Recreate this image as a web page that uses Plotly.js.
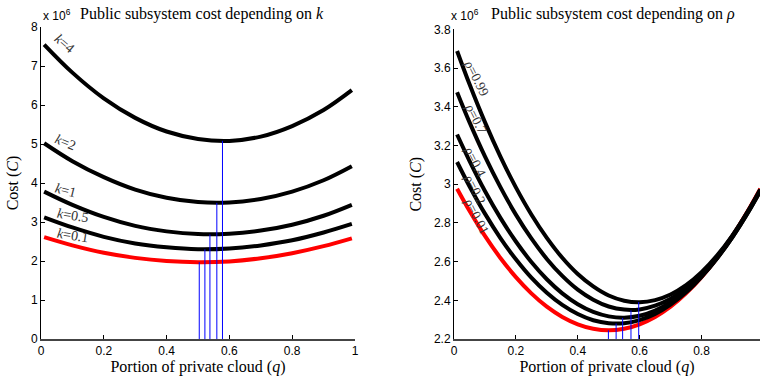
<!DOCTYPE html>
<html>
<head>
<meta charset="utf-8">
<script src="https://cdn.plot.ly/plotly-3.0.1.min.js"></script>
<style>html,body{margin:0;padding:0;background:#fff}#chart{width:760px;height:380px}</style>
</head>
<body>
<div id="chart"></div>
<script>
// ---------- Left panel: cost vs q for several k (values x 10^6) ----------
const qLeft = [0.01, 0.1, 0.2, 0.3, 0.4, 0.5, 0.6, 0.7, 0.8, 0.9, 0.99];
const kLabels = ["k=4", "k=2", "k=1", "k=0.5", "k=0.1"];
const costK4   = [7.55, 6.83, 6.17, 5.67, 5.32, 5.13, 5.08, 5.19, 5.46, 5.87, 6.38];
const costK2   = [5.02, 4.56, 4.15, 3.83, 3.62, 3.51, 3.50, 3.59, 3.78, 4.07, 4.43];
const costK1   = [3.78, 3.44, 3.13, 2.90, 2.76, 2.69, 2.70, 2.78, 2.93, 3.16, 3.44];
const costK05  = [3.12, 2.86, 2.62, 2.45, 2.35, 2.30, 2.32, 2.40, 2.53, 2.73, 2.95];
const costK01  = [2.61, 2.40, 2.21, 2.08, 2.00, 1.97, 1.99, 2.07, 2.20, 2.38, 2.58];
const qOptK    = [0.504, 0.522, 0.538, 0.560, 0.578];
const cMinK    = [1.97, 2.30, 2.68, 3.49, 5.08];

// ---------- Right panel: cost vs q for several rho (values x 10^6) ----------
const qRight = [0.01, 0.05, 0.1, 0.15, 0.2, 0.25, 0.3, 0.35, 0.4, 0.45, 0.5, 0.55, 0.6, 0.65, 0.7, 0.75, 0.8, 0.85, 0.9, 0.95, 0.99];
const rhoLabels = ["ρ=0.99", "ρ=0.7", "ρ=0.4", "ρ=0.2", "ρ=0.01"];
const costR099 = [3.689, 3.518, 3.321, 3.143, 2.984, 2.844, 2.723, 2.620, 2.536, 2.472, 2.425, 2.398, 2.390, 2.401, 2.430, 2.478, 2.545, 2.631, 2.736, 2.860, 2.972];
const costR07  = [3.476, 3.321, 3.144, 2.985, 2.843, 2.720, 2.614, 2.526, 2.455, 2.403, 2.368, 2.352, 2.353, 2.372, 2.408, 2.463, 2.535, 2.625, 2.733, 2.860, 2.973];
const costR04  = [3.257, 3.121, 2.965, 2.826, 2.704, 2.598, 2.509, 2.436, 2.380, 2.340, 2.317, 2.310, 2.320, 2.347, 2.390, 2.449, 2.525, 2.618, 2.727, 2.853, 2.965];
const costR02  = [3.115, 2.990, 2.848, 2.722, 2.612, 2.517, 2.439, 2.376, 2.329, 2.297, 2.282, 2.282, 2.298, 2.330, 2.378, 2.441, 2.521, 2.616, 2.727, 2.854, 2.966];
const costR001 = [2.977, 2.863, 2.733, 2.619, 2.520, 2.436, 2.367, 2.314, 2.276, 2.253, 2.245, 2.253, 2.276, 2.314, 2.367, 2.436, 2.520, 2.619, 2.733, 2.863, 2.977];
const qOptR    = [0.499, 0.524, 0.545, 0.572, 0.597];
const cMinR    = [2.245, 2.28, 2.309, 2.348, 2.391];

const serif = "Liberation Serif, DejaVu Serif, serif";
const sans = "Liberation Sans, Arial, sans-serif";

function curve(x, y, color, xa, ya) {
  return {x: x, y: y, type: "scatter", mode: "lines", line: {color: color, width: 4, shape: "spline", smoothing: 1},
          xaxis: xa, yaxis: ya, hoverinfo: "skip", showlegend: false};
}
function drops(qs, cs, base, xa, ya) {
  return qs.map((q, i) => ({x: [q, q], y: [base, cs[i]], type: "scatter", mode: "lines",
    line: {color: "#0000ff", width: 1}, xaxis: xa, yaxis: ya, hoverinfo: "skip", showlegend: false}));
}

const traces = [
  curve(qLeft, costK01, "#ff0000", "x", "y"),
  curve(qLeft, costK05, "#000000", "x", "y"),
  curve(qLeft, costK1, "#000000", "x", "y"),
  curve(qLeft, costK2, "#000000", "x", "y"),
  curve(qLeft, costK4, "#000000", "x", "y"),
  ...drops(qOptK, cMinK, 0, "x", "y"),
  curve(qRight, costR001, "#ff0000", "x2", "y2"),
  curve(qRight, costR02, "#000000", "x2", "y2"),
  curve(qRight, costR04, "#000000", "x2", "y2"),
  curve(qRight, costR07, "#000000", "x2", "y2"),
  curve(qRight, costR099, "#000000", "x2", "y2"),
  ...drops(qOptR, cMinR, 2.2, "x2", "y2")
];

function fmtLabel(s) {
  const parts = s.split("=");
  return "<i>" + parts[0] + "</i>=" + parts[1];
}

// label anchor positions (data coords) and rotation
const kLabelQ = [0.075, 0.079, 0.079, 0.101, 0.101];
const kLabelC = [7.58, 5.05, 3.80, 3.16, 2.66];
const kLabelA = [40, 22, 14, 9, 9];
const rLabelQ = [0.074, 0.071, 0.068, 0.068, 0.074];
const rLabelC = [3.547, 3.34, 3.118, 2.974, 2.834];

const annotations = [];
kLabels.forEach((t, i) => annotations.push({x: kLabelQ[i], y: kLabelC[i], xref: "x", yref: "y", text: fmtLabel(t),
  showarrow: false, textangle: kLabelA[i], font: {family: serif, size: 14, color: "#333"}}));
rhoLabels.forEach((t, i) => annotations.push({x: rLabelQ[i], y: rLabelC[i], xref: "x2", yref: "y2", text: fmtLabel(t),
  showarrow: false, textangle: 63, font: {family: serif, size: 13.5, color: "#333"}}));

// titles and exponent markers
annotations.push({xref: "paper", yref: "paper", x: 0.224, y: 1.042, xanchor: "center", yanchor: "middle", showarrow: false,
  text: "Public subsystem cost depending on <i>k</i>", font: {family: serif, size: 16, color: "#000"}});
annotations.push({xref: "paper", yref: "paper", x: 0.795, y: 1.042, xanchor: "center", yanchor: "middle", showarrow: false,
  text: "Public subsystem cost depending on <i>ρ</i>", font: {family: serif, size: 16, color: "#000"}});
annotations.push({xref: "paper", yref: "paper", x: 0.0, y: 1.006, xanchor: "left", yanchor: "bottom", showarrow: false,
  text: "x 10<sup>6</sup>", font: {family: sans, size: 12, color: "#000"}});
annotations.push({xref: "paper", yref: "paper", x: 0.5675, y: 1.006, xanchor: "left", yanchor: "bottom", showarrow: false,
  text: "x 10<sup>6</sup>", font: {family: sans, size: 12, color: "#000"}});

const axisCommon = {showgrid: false, zeroline: false, showline: true, linecolor: "#000", linewidth: 1,
  ticks: "inside", ticklen: 4, tickcolor: "#000", tickfont: {family: sans, size: 12, color: "#000"},
  mirror: false, fixedrange: true};

const layout = {
  width: 760, height: 380,
  margin: {l: 41, r: 0, t: 27, b: 41},
  paper_bgcolor: "#fff", plot_bgcolor: "#fff",
  showlegend: false,
  xaxis: Object.assign({}, axisCommon, {domain: [0, 0.4367], range: [0, 1], dtick: 0.2, tick0: 0, linecolor: "#444", linewidth: 1.5,
    title: {text: "Portion of private cloud (<i>q</i>)", font: {family: serif, size: 16, color: "#000"}, standoff: 3}, anchor: "y"}),
  yaxis: Object.assign({}, axisCommon, {domain: [0, 1], range: [0, 8], dtick: 1, tick0: 0,
    title: {text: "Cost (<i>C</i>)", font: {family: serif, size: 16, color: "#000"}, standoff: 8}, anchor: "x"}),
  xaxis2: Object.assign({}, axisCommon, {domain: [0.5744, 1], range: [0, 0.989], dtick: 0.2, tick0: 0, linecolor: "#444", linewidth: 1.5,
    title: {text: "Portion of private cloud (<i>q</i>)", font: {family: serif, size: 16, color: "#000"}, standoff: 3}, anchor: "y2"}),
  yaxis2: Object.assign({}, axisCommon, {domain: [0, 0.992], range: [2.2, 3.8], dtick: 0.2, tick0: 2.2,
    title: {text: "Cost (<i>C</i>)", font: {family: serif, size: 16, color: "#000"}, standoff: 8}, anchor: "x2"}),
  annotations: annotations
};

Plotly.newPlot("chart", traces, layout, {displayModeBar: false, staticPlot: true});
</script>
</body>
</html>
